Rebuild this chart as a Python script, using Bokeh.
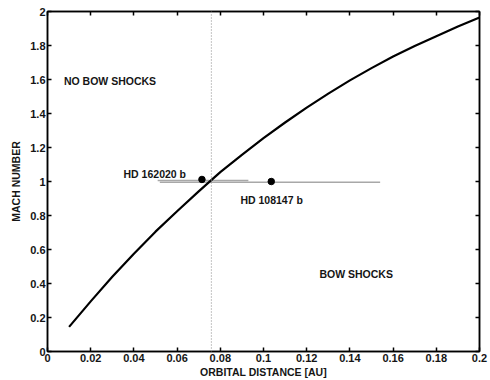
from bokeh.plotting import figure
from bokeh.models import LinearAxis, Range1d, Span, FixedTicker, Label
from bokeh.embed import file_html
from bokeh.resources import INLINE

# Curve: Mach number vs orbital distance
dist = [0.01, 0.02, 0.03, 0.04, 0.05, 0.06, 0.07, 0.08, 0.09, 0.10,
        0.11, 0.12, 0.13, 0.14, 0.15, 0.16, 0.17, 0.18, 0.19, 0.20]
mach = [0.145, 0.295, 0.44, 0.575, 0.705, 0.825, 0.942, 1.055, 1.157, 1.255,
        1.347, 1.435, 1.517, 1.595, 1.667, 1.735, 1.797, 1.855, 1.912, 1.965]

# Planets
planet_names = ["HD 162020 b", "HD 108147 b"]
planet_x = [0.0715, 0.1036]
planet_y = [1.012, 1.0]
bar_y = [1.006, 0.995]
planet_xlo = [0.051, 0.052]
planet_xhi = [0.093, 0.154]

crit_dist = 0.0759

x_ticks = [0, 0.02, 0.04, 0.06, 0.08, 0.1, 0.12, 0.14, 0.16, 0.18, 0.2]
y_ticks = [0, 0.2, 0.4, 0.6, 0.8, 1, 1.2, 1.4, 1.6, 1.8, 2]

FONT = "Liberation Sans"
TXT = "#151515"

p = figure(width=490, height=380, output_backend="svg", toolbar_location=None,
           x_range=Range1d(0, 0.2), y_range=Range1d(0, 2),
           min_border_left=47, min_border_right=11, min_border_top=11,
           min_border_bottom=28)
p.grid.visible = False
p.outline_line_color = "black"
p.outline_line_width = 1.5
p.background_fill_color = "white"
p.border_fill_color = "white"

def style_axis(ax, labels=True):
    ax.axis_line_color = "black"
    ax.axis_line_width = 1.5
    ax.major_tick_in = 4
    ax.major_tick_out = 0
    ax.minor_tick_line_color = None
    ax.major_tick_line_width = 1.5
    ax.major_label_text_font = FONT
    ax.major_label_text_font_style = "bold"
    ax.major_label_text_font_size = "11px"
    ax.major_label_text_color = TXT
    ax.major_label_standoff = 2
    ax.axis_label_text_font = FONT
    ax.axis_label_text_font_style = "bold"
    ax.axis_label_text_font_size = "10.5px"
    ax.axis_label_text_color = TXT
    ax.axis_label_standoff = 1
    if not labels:
        ax.major_label_standoff = 0

p.xaxis.ticker = FixedTicker(ticks=x_ticks)
p.yaxis.ticker = FixedTicker(ticks=y_ticks)
p.xaxis.major_label_overrides = {0: "0", 0.1: "0.1", 0.2: "0.2"}
p.yaxis.major_label_overrides = {0: "0", 1: "1", 2: "2"}
p.xaxis.axis_label = "ORBITAL DISTANCE [AU]"
p.yaxis.axis_label = "MACH NUMBER"
style_axis(p.xaxis[0])
style_axis(p.yaxis[0])
p.yaxis[0].axis_label_standoff = 5

top = LinearAxis(ticker=FixedTicker(ticks=x_ticks),
                 major_label_overrides={t: "" for t in x_ticks})
right = LinearAxis(ticker=FixedTicker(ticks=y_ticks),
                   major_label_overrides={t: "" for t in y_ticks})
style_axis(top, labels=False)
style_axis(right, labels=False)
p.add_layout(top, "above")
p.add_layout(right, "right")

# Critical distance line (dotted)
p.add_layout(Span(location=crit_dist, dimension="height", line_color="#9a9a9a",
                  line_dash="1 2", line_width=1.2))

# Error bars
p.segment(x0=planet_xlo, x1=planet_xhi, y0=bar_y, y1=bar_y,
          line_color="#a8a8a8", line_width=1.5)

# Curve
p.line(dist, mach, line_color="black", line_width=2.2)

# Planet points
p.scatter(planet_x, planet_y, size=6.5, color="black")

def lab(x, y, t):
    p.add_layout(Label(x=x, y=y, text=t, text_font=FONT, text_font_style="bold",
                       text_font_size="10.5px", text_color=TXT,
                       text_baseline="middle", text_align="left"))

lab(0.0076, 1.589, "NO BOW SHOCKS")
lab(0.0352, 1.045, planet_names[0])
lab(0.0893, 0.893, planet_names[1])
lab(0.1259, 0.454, "BOW SHOCKS")

open("out.html", "w").write(file_html(p, INLINE))
